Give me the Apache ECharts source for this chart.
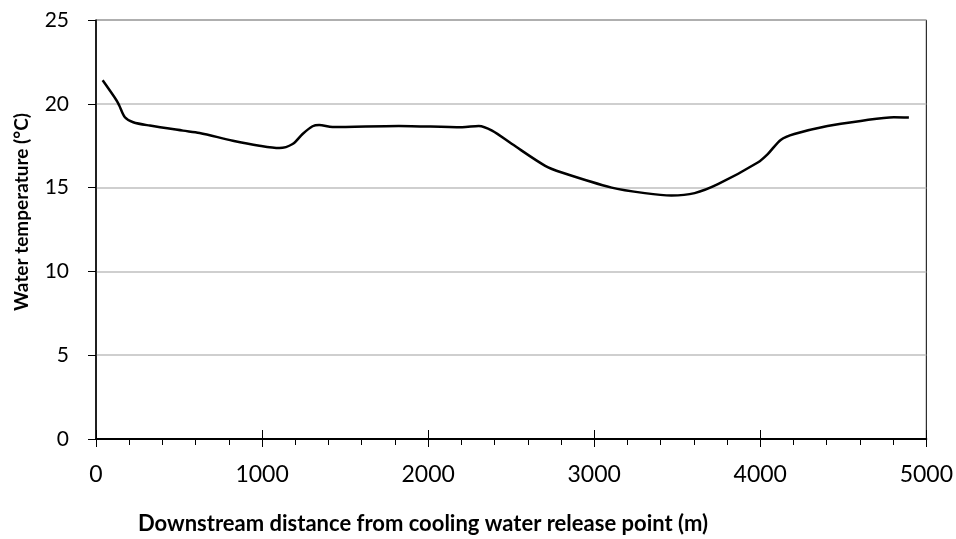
<!DOCTYPE html>
<html>
<head>
<meta charset="utf-8">
<script src="https://cdn.jsdelivr.net/npm/echarts@6/dist/echarts.min.js"></script>
<style>
  html, body { margin: 0; padding: 0; background: #fff; }
  #main { width: 956px; height: 539px; }
</style>
</head>
<body>
<div id="main"></div>
<script>
var myChart = echarts.init(document.getElementById('main'));

// distance downstream (m)
var distance = [40, 124, 140, 174, 224, 324, 524, 624, 824, 984, 1104, 1184, 1244, 1304, 1344, 1424,
  1824, 2205, 2305, 2385, 2505, 2705, 2805, 3105, 3305, 3465, 3605, 3745, 3985, 4045, 4125, 4205,
  4405, 4605, 4805, 4895];
// water temperature (°C)
var temperature = [21.4, 20.2, 19.9, 19.2, 18.9, 18.7, 18.4, 18.26, 17.8, 17.5, 17.36, 17.6, 18.2, 18.66, 18.74, 18.62,
  18.68, 18.6, 18.68, 18.4, 17.6, 16.3, 15.9, 15.0, 14.67, 14.53, 14.67, 15.2, 16.5, 17.0, 17.86, 18.2,
  18.68, 18.98, 19.2, 19.18];

var xLabel = 'Downstream distance from cooling water release point (m)';
var yLabel = 'Water temperature (°C)';

var fontFam = 'Lato, "Open Sans", sans-serif';

var seriesData = distance.map(function (d, i) { return [d, temperature[i]]; });

var option = {
    animation: false,
    grid: {
        left: 96, right: 28, top: 20, bottom: 100,
        show: true, borderColor: '#000', borderWidth: 1
    },
    xAxis: [{
        type: 'value', min: 0, max: 5000, interval: 1000,
        axisLine: { lineStyle: { color: '#000', width: 2 } },
        axisTick: { show: true, length: 8, lineStyle: { color: '#000', width: 1 } },
        minorTick: { show: true, splitNumber: 5, length: 6, lineStyle: { color: '#000', width: 1 } },
        axisLabel: { color: '#000', fontSize: 23, margin: 24, fontFamily: fontFam,
            formatter: function (v) { return String(v); } },
        splitLine: { show: false }
    }, {
        type: 'value', min: 0, max: 5000, interval: 1000, position: 'bottom',
        axisLine: { show: false },
        axisTick: { show: true, inside: true, length: 9, lineStyle: { color: '#000', width: 1 } },
        axisLabel: { show: false },
        splitLine: { show: false }
    }],
    yAxis: {
        type: 'value', min: 0, max: 25, interval: 5,
        axisLine: { show: true, lineStyle: { color: '#000', width: 1.5 } },
        axisTick: { show: true, length: 8, lineStyle: { color: '#000', width: 1 } },
        axisLabel: { color: '#000', fontSize: 21, margin: 27, fontFamily: fontFam },
        splitLine: { show: true, lineStyle: { color: '#bfbfbf', width: 1.5 } }
    },
    graphic: [{
        type: 'text', x: 138, y: 513,
        style: { text: xLabel, fill: '#000', font: 'bold 22px ' + fontFam }
    }, {
        type: 'text', x: 22, y: 212, rotation: Math.PI / 2,
        style: { text: yLabel, fill: '#000', font: 'bold 19px ' + fontFam,
            align: 'center', verticalAlign: 'middle' }
    }],
    series: [{
        type: 'line',
        data: seriesData,
        smooth: 0.3,
        showSymbol: false,
        lineStyle: { color: '#000', width: 2.5 }
    }]
};

myChart.setOption(option);
window.onresize = myChart.resize;
</script>
</body>
</html>
